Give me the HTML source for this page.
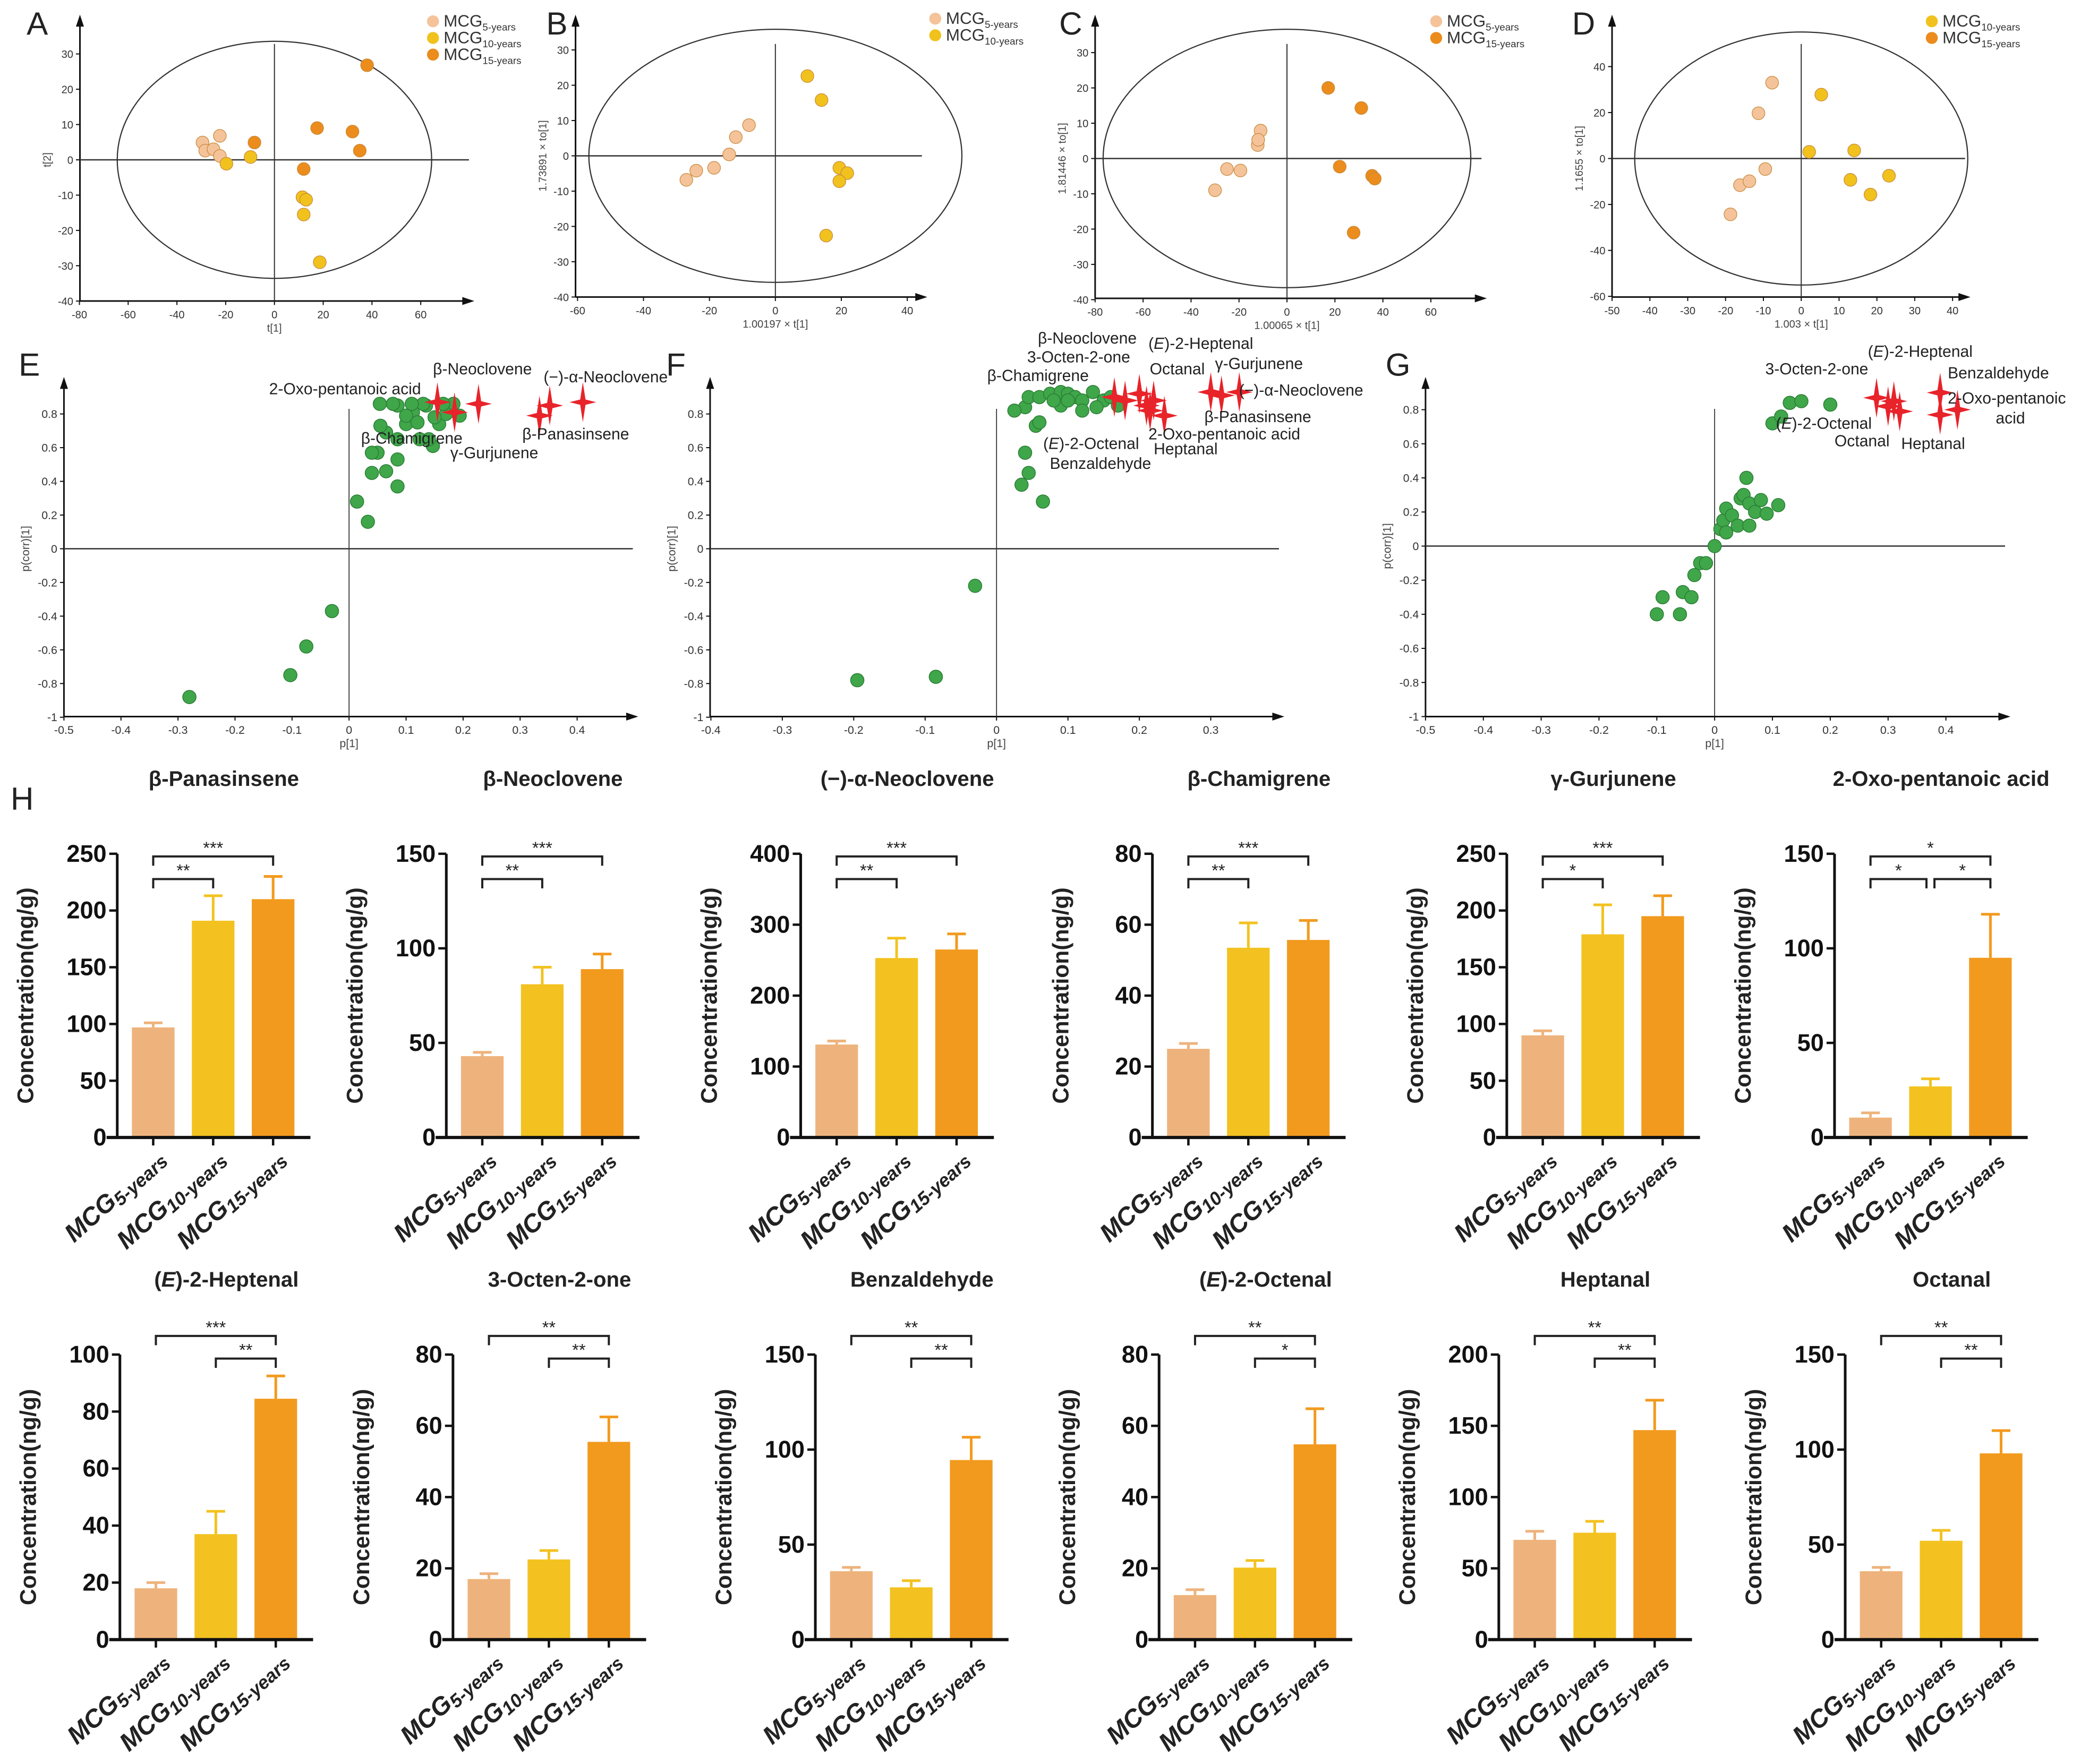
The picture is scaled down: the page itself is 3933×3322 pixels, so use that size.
<!DOCTYPE html>
<html><head><meta charset="utf-8">
<style>
html,body{margin:0;padding:0;background:#fff;}
svg{display:block;font-family:"Liberation Sans",Arial,sans-serif;}
</style></head>
<body>
<svg id="fig" width="3933" height="3322" viewBox="0 0 1568 1324.4" preserveAspectRatio="none" xmlns="http://www.w3.org/2000/svg">
<rect x="0" y="0" width="1568" height="1325" fill="#fff"/>
</svg>
<script>
// ---------- Score plot data (A-D) ----------
const scoreA_5 = [[-29.5,4.9],[-28.4,2.6],[-22.4,6.8],[-25,3],[-22.4,1.1]];
const scoreA_10 = [[-19.7,-1.1],[-9.8,0.8],[11.5,-10.6],[13,-11.3],[12,-15.5],[18.6,-29]];
const scoreA_15 = [[-8.2,4.9],[12,-2.6],[17.5,9],[32,8],[35,2.6],[38,26.8]];
const scoreB_5 = [[-27,-6.8],[-24,-4.2],[-18.6,-3.4],[-14,0.4],[-12,5.3],[-8,8.7]];
const scoreB_10 = [[9.7,22.6],[14,15.8],[19.4,-3.4],[21.8,-4.9],[19.4,-7.2],[15.4,-22.6]];
const scoreC_5 = [[-30,-9],[-25,-3],[-19.4,-3.4],[-12.2,3.8],[-11,7.9],[-12,5.3]];
const scoreC_15 = [[17.2,20],[31,14.3],[22,-2.3],[35.5,-4.9],[36.6,-5.7],[27.8,-21]];
const scoreD_10 = [[5.3,27.8],[2.1,2.9],[14,3.5],[13,-9.3],[23.2,-7.5],[18.3,-15.7]];
const scoreD_15 = [[-7.7,33],[-11.3,19.7],[-9.5,-4.6],[-16.2,-11.6],[-13.7,-9.9],[-18.7,-24.3]];
const ticksA_x = [-80,-60,-40,-20,0,20,40,60];
const ticksA_y = [-40,-30,-20,-10,0,10,20,30];
const ticksB_x = [-60,-40,-20,0,20,40];
const ticksB_y = [-40,-30,-20,-10,0,10,20,30];
const ticksC_x = [-80,-60,-40,-20,0,20,40,60];
const ticksC_y = [-40,-30,-20,-10,0,10,20,30];
const ticksD_x = [-50,-40,-30,-20,-10,0,10,20,30,40];
const ticksD_y = [-60,-40,-20,0,20,40];

// ---------- S-plot data (E-G) ----------
const sE_green = [[-0.28,-0.88],[-0.103,-0.75],[-0.075,-0.58],[-0.03,-0.37],[0.014,0.28],[0.033,0.16],[0.04,0.45],[0.05,0.57],[0.065,0.46],[0.085,0.37],[0.065,0.69],[0.085,0.53],[0.055,0.73],[0.085,0.85],[0.112,0.81],[0.135,0.85],[0.158,0.74],[0.124,0.65],[0.147,0.61],[0.1,0.74],[0.077,0.86],[0.054,0.86],[0.183,0.86],[0.194,0.79],[0.14,0.65],[0.085,0.65],[0.1,0.79],[0.12,0.75],[0.04,0.57],[0.17,0.8],[0.15,0.78],[0.13,0.86],[0.165,0.86],[0.11,0.86]];
const sE_red = [[0.155,0.87],[0.185,0.81],[0.227,0.86],[0.334,0.79],[0.352,0.85],[0.41,0.87]];
const sF_green = [[-0.195,-0.78],[-0.085,-0.76],[-0.03,-0.22],[0.035,0.38],[0.045,0.45],[0.04,0.57],[0.065,0.28],[0.055,0.73],[0.06,0.75],[0.04,0.84],[0.045,0.9],[0.06,0.9],[0.075,0.92],[0.09,0.93],[0.1,0.92],[0.11,0.9],[0.12,0.88],[0.135,0.93],[0.15,0.88],[0.16,0.9],[0.17,0.85],[0.09,0.85],[0.12,0.82],[0.08,0.88],[0.14,0.84],[0.1,0.88],[0.025,0.82]];
const sF_red = [[0.165,0.9],[0.18,0.88],[0.2,0.92],[0.21,0.85],[0.215,0.82],[0.22,0.88],[0.235,0.79],[0.3,0.93],[0.315,0.91],[0.34,0.93]];
const sG_green = [[-0.1,-0.4],[-0.09,-0.3],[-0.06,-0.4],[-0.055,-0.27],[-0.04,-0.3],[-0.035,-0.17],[-0.025,-0.1],[-0.015,-0.1],[0,0],[0.01,0.1],[0.015,0.15],[0.02,0.22],[0.03,0.18],[0.04,0.12],[0.045,0.28],[0.05,0.3],[0.055,0.4],[0.06,0.25],[0.07,0.2],[0.08,0.27],[0.09,0.19],[0.11,0.24],[0.06,0.12],[0.02,0.08],[0.1,0.72],[0.115,0.76],[0.13,0.84],[0.15,0.85],[0.2,0.83]];
const sG_red = [[0.28,0.87],[0.3,0.82],[0.32,0.79],[0.31,0.85],[0.39,0.9],[0.39,0.77],[0.42,0.8]];
const ticksE_x = [-0.5,-0.4,-0.3,-0.2,-0.1,0,0.1,0.2,0.3,0.4];
const ticksF_x = [-0.4,-0.3,-0.2,-0.1,0,0.1,0.2,0.3];
const ticksS_y = [-1,-0.8,-0.6,-0.4,-0.2,0,0.2,0.4,0.6,0.8];

// ---------- Bar chart data (H) ----------
const barTitles = ["β-Panasinsene","β-Neoclovene","(−)-α-Neoclovene","β-Chamigrene","γ-Gurjunene","2-Oxo-pentanoic acid","(E)-2-Heptenal","3-Octen-2-one","Benzaldehyde","(E)-2-Octenal","Heptanal","Octanal"];
const groups = ["5-years","10-years","15-years"];
const barMeans = [[97,191,210],[43,81,89],[131,253,265],[25,53.5,55.7],[90,179,195],[10.5,27,95],[18,37,84.5],[17,22.5,55.5],[36,27.5,94.5],[12.5,20.2,54.8],[70,75,147],[36,52,98]];
const barErrors = [[4,22,20],[2,9,8],[5,28,22],[1.5,7,5.5],[4,26,18],[2.5,4,23],[2,8,8],[1.5,2.5,7],[2,3.5,12],[1.5,2,10],[6,8,21],[2,5.5,12]];
const barMax = [250,150,400,80,250,150,100,80,150,80,200,150];
const barStep = [50,50,100,20,50,50,20,20,50,20,50,50];
const sigLabels = [[["**",0,1],["***",0,2]],[["**",0,1],["***",0,2]],[["**",0,1],["***",0,2]],[["**",0,1],["***",0,2]],[["*",0,1],["***",0,2]],[["*",0,1],["*",1,2],["*",0,2]],
 [["**",1,2],["***",0,2]],[["**",1,2],["**",0,2]],[["**",1,2],["**",0,2]],[["*",1,2],["**",0,2]],[["**",1,2],["**",0,2]],[["**",1,2],["**",0,2]]];

const NS="http://www.w3.org/2000/svg";
const svg=document.getElementById('fig');
function mk(tag,attrs,parent,text){const e=document.createElementNS(NS,tag);for(const k in attrs)e.setAttribute(k,attrs[k]);if(text!==undefined)e.textContent=text;(parent||svg).appendChild(e);return e;}
function line(x1,y1,x2,y2,p,w,c){return mk('line',{x1,y1,x2,y2,stroke:c||'#222','stroke-width':w||1},p);}
function arrowUp(x,y,p){mk('polygon',{points:`${x-3},${y+9} ${x+3},${y+9} ${x},${y}`,fill:'#111'},p);}
function arrowRight(x,y,p){mk('polygon',{points:`${x-9},${y-3} ${x-9},${y+3} ${x},${y}`,fill:'#111'},p);}
function panelLetter(t,x,y){const e=mk('text',{x,y,'font-size':24,fill:'#222'},svg,t);

}

const colors={c5:'#f4c39a',c10:'#f1c21d',c15:'#eb8c1c'};

function scorePanel(cfg){
  const g=mk('g',{});
  
  
  const X=v=>cfg.ox+v*cfg.sx, Y=v=>cfg.oy-v*cfg.sy;
  line(cfg.left,cfg.bottom,cfg.left,cfg.top,g,1.2,'#111'); arrowUp(cfg.left,cfg.top-4,g);
  line(cfg.left,cfg.bottom,cfg.right,cfg.bottom,g,1.2,'#111'); arrowRight(cfg.right+4,cfg.bottom,g);
  line(cfg.ox,cfg.top+18,cfg.ox,cfg.bottom,g,0.8,'#333');
  line(cfg.left,cfg.oy,cfg.right,cfg.oy,g,1,'#333');
  mk('ellipse',{cx:cfg.ox,cy:cfg.oy,rx:cfg.rx,ry:cfg.ry,fill:'none',stroke:'#333','stroke-width':0.9},g);
  cfg.tx.forEach(v=>{line(X(v),cfg.bottom,X(v),cfg.bottom+3,g,0.8,'#111');
    const t=mk('text',{x:X(v),y:cfg.bottom+13,'font-size':8,'text-anchor':'middle',fill:'#333'},g,v);
    });
  cfg.ty.forEach(v=>{line(cfg.left-3,Y(v),cfg.left,Y(v),g,0.8,'#111');
    const t=mk('text',{x:cfg.left-5,y:Y(v)+3,'font-size':8,'text-anchor':'end',fill:'#333'},g,v);
    });
  const xt=mk('text',{x:cfg.ox,y:cfg.bottom+23,'font-size':8,'text-anchor':'middle',fill:'#444'},g,cfg.xlab);
  
  const yt=mk('text',{x:0,y:0,'font-size':8,'text-anchor':'middle',fill:'#444',transform:`translate(${cfg.left-22},${cfg.oy}) rotate(-90)`},g,cfg.ylab);
  
  cfg.series.forEach(s=>{s.d.forEach(p=>{const c=mk('circle',{cx:X(p[0]),cy:Y(p[1]),r:4.8,fill:s.pc||s.c,stroke:'#c98a3a','stroke-width':0.5},g);
    });});
  cfg.series.forEach((s,i)=>{const ly=cfg.ly+i*12.5;
    const lg=mk('g',{},g);
    mk('circle',{cx:cfg.lx,cy:ly,r:4.5,fill:s.c},lg);
    const t=mk('text',{x:cfg.lx+8,y:ly+4,'font-size':12.5,fill:'#333'},lg,'MCG');
    mk('tspan',{'font-size':7.5,dy:3},t,s.n);});
}
scorePanel({id:'a',ox:206,oy:120,sx:1.83,sy:2.65,left:60,right:352,top:15,bottom:226,rx:118,ry:89,tx:ticksA_x,ty:ticksA_y,xlab:'t[1]',ylab:'t[2]',lx:325,ly:16,
 series:[{n:'5-years',c:colors.c5,d:scoreA_5},{n:'10-years',c:colors.c10,d:scoreA_10},{n:'15-years',c:colors.c15,d:scoreA_15}]});
scorePanel({id:'b',ox:582,oy:117,sx:2.475,sy:2.65,left:432,right:692,top:15,bottom:223,rx:140,ry:95,tx:ticksB_x,ty:ticksB_y,xlab:'1.00197 × t[1]',ylab:'1.73891 × to[1]',lx:702,ly:14,
 series:[{n:'5-years',c:colors.c5,d:scoreB_5},{n:'10-years',c:colors.c10,d:scoreB_10}]});
scorePanel({id:'c',ox:966,oy:119,sx:1.8,sy:2.65,left:822,right:1112,top:15,bottom:224,rx:138,ry:97,tx:ticksC_x,ty:ticksC_y,xlab:'1.00065 × t[1]',ylab:'1.81446 × to[1]',lx:1078,ly:16,
 series:[{n:'5-years',c:colors.c5,d:scoreC_5},{n:'15-years',c:colors.c15,d:scoreC_15}]});
scorePanel({id:'d',ox:1352,oy:119,sx:2.84,sy:1.725,left:1210,right:1475,top:15,bottom:223,rx:125,ry:95,tx:ticksD_x,ty:ticksD_y,xlab:'1.003 × t[1]',ylab:'1.1655 × to[1]',lx:1450,ly:16,
 series:[{n:'10-years',c:colors.c10,d:scoreD_10},{n:'15-years',c:colors.c15,pc:colors.c5,d:scoreD_15}]});
panelLetter('A',20,26);panelLetter('B',410,26);panelLetter('C',795,26);panelLetter('D',1180,26);

function star(cx,cy,g){const h=15,w=10,k=2;
 const s=mk('polygon',{points:`${cx},${cy-h} ${cx+k},${cy-k} ${cx+w},${cy} ${cx+k},${cy+k} ${cx},${cy+h} ${cx-k},${cy+k} ${cx-w},${cy} ${cx-k},${cy-k}`,fill:'#e8232a'},g);
 }
function splot(cfg){
  const g=mk('g',{});
  const X=v=>cfg.ox+v*cfg.sx, Y=v=>cfg.oy-v*cfg.sy;
  line(cfg.left,cfg.bottom,cfg.left,cfg.top,g,1.2,'#111');arrowUp(cfg.left,cfg.top-4,g);
  line(cfg.left,cfg.bottom,cfg.right,cfg.bottom,g,1.2,'#111');arrowRight(cfg.right+4,cfg.bottom,g);
  line(cfg.ox,cfg.top+20,cfg.ox,cfg.bottom,g,0.7,'#333');
  line(cfg.left,cfg.oy,cfg.right,cfg.oy,g,1,'#333');
  cfg.tx.forEach(v=>{line(X(v),cfg.bottom,X(v),cfg.bottom+3,g,0.8,'#111');
    const t=mk('text',{x:X(v),y:cfg.bottom+13,'font-size':8.5,'text-anchor':'middle',fill:'#333'},g,v);
    });
  cfg.ty.forEach(v=>{line(cfg.left-3,Y(v),cfg.left,Y(v),g,0.8,'#111');
    const t=mk('text',{x:cfg.left-5,y:Y(v)+3,'font-size':8.5,'text-anchor':'end',fill:'#333'},g,v);
    });
  const xt=mk('text',{x:cfg.ox,y:cfg.bottom+23,'font-size':8.5,'text-anchor':'middle',fill:'#444'},g,'p[1]');
  
  const yt=mk('text',{x:0,y:0,'font-size':8.5,'text-anchor':'middle',fill:'#444',transform:`translate(${cfg.left-26},${cfg.oy}) rotate(-90)`},g,'p(corr)[1]');
  
  cfg.green.forEach(p=>{const c=mk('circle',{cx:X(p[0]),cy:Y(p[1]),r:5,fill:'#3fa64a',stroke:'#2b7d35','stroke-width':0.6},g);
    });
  cfg.red.forEach(p=>star(X(p[0]),Y(p[1]),g));
  cfg.labels.forEach(l=>{const t=mk('text',{x:l[1],y:l[2],'font-size':12,fill:'#222'},g);
    
    if(l[0].startsWith('(E)')){mk('tspan',{},t,'(');mk('tspan',{'font-style':'italic'},t,'E');mk('tspan',{},t,l[0].slice(2));}else t.textContent=l[0];});
}
splot({id:'e',ox:262,oy:412,sx:428,sy:126.5,left:48,right:475,top:287,bottom:538,tx:ticksE_x,ty:ticksS_y,green:sE_green,red:sE_red,
 labels:[['2-Oxo-pentanoic acid',202,296],['β-Neoclovene',325,281],['(−)-α-Neoclovene',408,287],['β-Chamigrene',271,333],['γ-Gurjunene',338,344],['β-Panasinsene',392,330]]});
splot({id:'f',ox:748,oy:412,sx:536,sy:126.5,left:533,right:960,top:287,bottom:538,tx:ticksF_x,ty:ticksS_y,green:sF_green,red:sF_red,
 labels:[['β-Neoclovene',779,258],['3-Octen-2-one',771,272],['β-Chamigrene',741,286],['(E)-2-Heptenal',862,262],['Octanal',863,281],['γ-Gurjunene',912,277],['(−)-α-Neoclovene',930,297],['β-Panasinsene',904,317],['2-Oxo-pentanoic acid',862,330],['(E)-2-Octenal',783,337],['Heptanal',866,341],['Benzaldehyde',788,352]]});
splot({id:'g',ox:1287,oy:410,sx:434,sy:128,left:1070,right:1505,top:287,bottom:538,tx:ticksE_x,ty:ticksS_y,green:sG_green,red:sG_red,
 labels:[['(E)-2-Heptenal',1402,268],['3-Octen-2-one',1325,281],['Benzaldehyde',1462,284],['2-Oxo-pentanoic',1462,303],['acid',1498,318],['(E)-2-Octenal',1333,322],['Octanal',1377,335],['Heptanal',1427,337]]});
panelLetter('E',14,282);panelLetter('F',500,282);panelLetter('G',1040,282);
panelLetter('H',8,608);

const rowCfg=[{y0:854,yt:641,title:590},{y0:1231,yt:1017,title:966}];
const axesX=[88,335,601,865,1131,1377,90,340,612,870,1125,1385];
const barColors=['#eeb37c','#f3c220','#f29a1e'];
barTitles.forEach((title,i)=>{
  const r=rowCfg[i<6?0:1], ax=axesX[i];
  const g=mk('g',{});
  const Y=v=>r.y0-(v/barMax[i])*(r.y0-r.yt);
  const tt=mk('text',{x:ax+80,y:r.title,'font-size':16,'font-weight':'bold','text-anchor':'middle',fill:'#222'},g);
  
  if(title.startsWith('(E)')){mk('tspan',{},tt,'(');mk('tspan',{'font-style':'italic'},tt,'E');mk('tspan',{},tt,title.slice(2));}else tt.textContent=title;
  barMeans[i].forEach((m,j)=>{const cx=ax+27+j*45;const w=32;
    const e=barErrors[i][j];
    line(cx,Y(m),cx,Y(m+e),g,2,barColors[j]);line(cx-7,Y(m+e),cx+7,Y(m+e),g,2,barColors[j]);
    const b=mk('rect',{x:cx-w/2,y:Y(m),width:w,height:r.y0-Y(m),fill:barColors[j]},g);
    
    line(cx,r.y0,cx,r.y0+6,g,1.8,'#111');
    const lt=mk('text',{x:0,y:0,'font-size':19,'font-weight':'bold','font-style':'italic','text-anchor':'end',fill:'#222',transform:`translate(${cx+10},${r.y0+17}) rotate(-42)`},g,'MCG');
    
    mk('tspan',{'font-size':14,dy:3},lt,groups[j]);
  });
  line(ax,r.y0+1,ax,r.yt,g,2,'#111');
  line(ax-8,r.y0,ax+145,r.y0,g,2.4,'#111');
  for(let v=0;v<=barMax[i]+1e-9;v+=barStep[i]){line(ax-6,Y(v),ax,Y(v),g,1.8,'#111');
    const t=mk('text',{x:ax-8,y:Y(v)+6,'font-size':18,'font-weight':'bold','text-anchor':'end',fill:'#111'},g,v);
    }
  const yl=mk('text',{x:0,y:0,'font-size':17,'font-weight':'bold','text-anchor':'middle',fill:'#222',transform:`translate(${ax-63},${(r.y0+r.yt)/2}) rotate(-90)`},g,'Concentration(ng/g)');
  
  sigLabels[i].forEach((s,k)=>{
    let ly;
    if(i<6){ ly = (s[2]-s[1]===2)? r.yt+2 : r.yt+19; } else { ly = (s[2]-s[1]===2)? r.yt-14 : r.yt+3; }
    const x1=ax+27+s[1]*45, x2=ax+27+s[2]*45;
    const x1a = (i===5&&s[1]===1)?x1+3:x1, x2a=(i===5&&s[2]===1)?x2-3:x2;
    const p=mk('path',{d:`M${x1a},${ly+7} V${ly} H${x2a} V${ly+7}`,fill:'none',stroke:'#222','stroke-width':1.6},g);
    
    const st=mk('text',{x:(x1a+x2a)/2,y:ly-2,'font-size':13,'text-anchor':'middle',fill:'#222'},g,s[0]);
    
  });
});
</script>
</body></html>
